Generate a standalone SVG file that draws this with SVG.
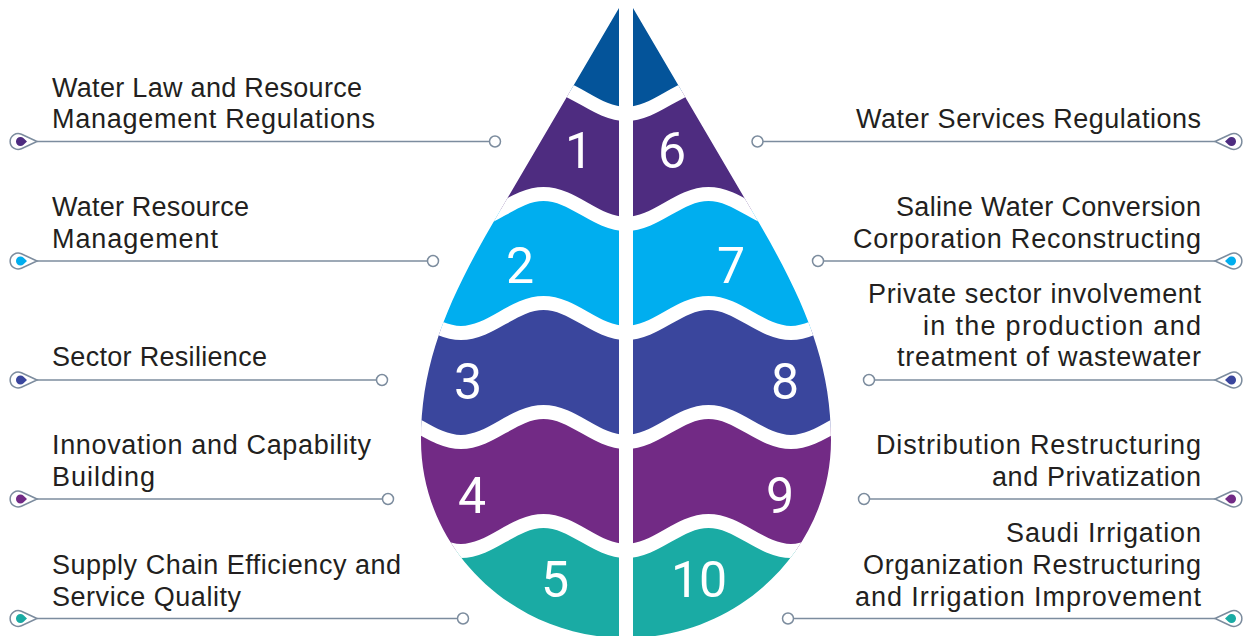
<svg xmlns="http://www.w3.org/2000/svg" xmlns:xlink="http://www.w3.org/1999/xlink" width="1245" height="636" viewBox="0 0 1245 636">
  <style>
    .lbl { font-family: "Liberation Sans", Arial, sans-serif; font-size: 27px; fill: #231f20; }
    .end { text-anchor: end; }
    .num { font-family: Roboto, "Liberation Sans", sans-serif; font-size: 50px; fill: #ffffff; text-anchor: middle; }
    .conn { stroke: #7c8c9e; stroke-width: 1.5; fill: none; }
    .dot { fill: #ffffff; stroke: #7c8c9e; stroke-width: 1.5; }
    .pin { fill: #ffffff; stroke: #7c8c9e; stroke-width: 1.5; }
    .sep { fill: none; stroke: #ffffff; stroke-width: 14; }
    .c0 { fill: #04549a; }
    .c1 { fill: #4e2c80; }
    .c2 { fill: #00aeef; }
    .c3 { fill: #3a469d; }
    .c4 { fill: #722a85; }
    .c5 { fill: #1aaba4; }
  </style>
  <defs>
    <!-- drop outline and its two halves (the 14px centre gap is left out) -->
    <clipPath id="dropClip">
      <path d="M626,-4 L497,216 C450,296 421,360 421,440 C421,549 513,638 626,638 C739,638 831,549 831,440 C831,360 802,296 755,216 Z"/>
    </clipPath>
    <clipPath id="halfL">
      <path d="M619,8 L497,216 C450,296 421,360 421,440 C421,549 513,638 626,638 L619,638 Z"/>
    </clipPath>
    <clipPath id="halfR">
      <path d="M633,8 L755,216 C802,296 831,360 831,440 C831,549 739,638 626,638 L633,638 Z"/>
    </clipPath>

    <!-- horizontal bands between the wave lines -->
    <path id="band0" d="M360,-20 L890,-20 L890,84 L873.5,84 C843.5,84 821,114 791,114 C761,114 738.5,84 708.5,84 C678.5,84 656,114 626,114 C596,114 573.5,84 543.5,84 C513.5,84 491,114 461,114 C431,114 408.5,84 378.5,84 L360,84 Z"/>
    <path id="band1" d="M360,84 L378.5,84 C408.5,84 431,114 461,114 C491,114 513.5,84 543.5,84 C573.5,84 596,114 626,114 C656,114 678.5,84 708.5,84 C738.5,84 761,114 791,114 C821,114 843.5,84 873.5,84 L890,84 L890,194 L873.5,194 C843.5,194 821,224 791,224 C761,224 738.5,194 708.5,194 C678.5,194 656,224 626,224 C596,224 573.5,194 543.5,194 C513.5,194 491,224 461,224 C431,224 408.5,194 378.5,194 L360,194 Z"/>
    <path id="band2" d="M360,194 L378.5,194 C408.5,194 431,224 461,224 C491,224 513.5,194 543.5,194 C573.5,194 596,224 626,224 C656,224 678.5,194 708.5,194 C738.5,194 761,224 791,224 C821,224 843.5,194 873.5,194 L890,194 L890,303 L873.5,303 C843.5,303 821,333 791,333 C761,333 738.5,303 708.5,303 C678.5,303 656,333 626,333 C596,333 573.5,303 543.5,303 C513.5,303 491,333 461,333 C431,333 408.5,303 378.5,303 L360,303 Z"/>
    <path id="band3" d="M360,303 L378.5,303 C408.5,303 431,333 461,333 C491,333 513.5,303 543.5,303 C573.5,303 596,333 626,333 C656,333 678.5,303 708.5,303 C738.5,303 761,333 791,333 C821,333 843.5,303 873.5,303 L890,303 L890,412 L873.5,412 C843.5,412 821,442 791,442 C761,442 738.5,412 708.5,412 C678.5,412 656,442 626,442 C596,442 573.5,412 543.5,412 C513.5,412 491,442 461,442 C431,442 408.5,412 378.5,412 L360,412 Z"/>
    <path id="band4" d="M360,412 L378.5,412 C408.5,412 431,442 461,442 C491,442 513.5,412 543.5,412 C573.5,412 596,442 626,442 C656,442 678.5,412 708.5,412 C738.5,412 761,442 791,442 C821,442 843.5,412 873.5,412 L890,412 L890,521 L873.5,521 C843.5,521 821,551 791,551 C761,551 738.5,521 708.5,521 C678.5,521 656,551 626,551 C596,551 573.5,521 543.5,521 C513.5,521 491,551 461,551 C431,551 408.5,521 378.5,521 L360,521 Z"/>
    <path id="band5" d="M360,521 L378.5,521 C408.5,521 431,551 461,551 C491,551 513.5,521 543.5,521 C573.5,521 596,551 626,551 C656,551 678.5,521 708.5,521 C738.5,521 761,551 791,551 C821,551 843.5,521 873.5,521 L890,521 L890,660 L360,660 Z"/>

    <!-- end marker of each leader line: outlined drop with a coloured core -->
    <path id="pin" d="M0,0 L-15.6,-7.3 A8,8 0 1,0 -15.6,7.3 Z"/>
    <path id="pinCore" d="M-10,0 L-13.4,-3.25 A4.5,4.5 0 1,0 -13.4,3.25 Z"/>
  </defs>

  <!-- tip of the drop -->
  <g id="drop-tip">
    <use xlink:href="#band0" class="c0" clip-path="url(#halfL)"/>
    <use xlink:href="#band0" class="c0" clip-path="url(#halfR)"/>
  </g>

  <!-- left column -->
  <g id="node-1">
    <use xlink:href="#band1" class="c1" clip-path="url(#halfL)"/>
    <text class="num" x="579" y="168">1</text>
    <text class="lbl" x="52" y="97" textLength="310" lengthAdjust="spacing">Water Law and Resource</text>
    <text class="lbl" x="52" y="128" textLength="323" lengthAdjust="spacing">Management Regulations</text>
  </g>
  <g id="node-2">
    <use xlink:href="#band2" class="c2" clip-path="url(#halfL)"/>
    <text class="num" x="520" y="283">2</text>
    <text class="lbl" x="52" y="216" textLength="197" lengthAdjust="spacing">Water Resource</text>
    <text class="lbl" x="52" y="248" textLength="166" lengthAdjust="spacing">Management</text>
  </g>
  <g id="node-3">
    <use xlink:href="#band3" class="c3" clip-path="url(#halfL)"/>
    <text class="num" x="468" y="399">3</text>
    <text class="lbl" x="52" y="366" textLength="215" lengthAdjust="spacing">Sector Resilience</text>
  </g>
  <g id="node-4">
    <use xlink:href="#band4" class="c4" clip-path="url(#halfL)"/>
    <text class="num" x="472" y="513">4</text>
    <text class="lbl" x="52" y="454" textLength="319" lengthAdjust="spacing">Innovation and Capability</text>
    <text class="lbl" x="52" y="486" textLength="103" lengthAdjust="spacing">Building</text>
  </g>
  <g id="node-5">
    <use xlink:href="#band5" class="c5" clip-path="url(#halfL)"/>
    <text class="num" x="555" y="597">5</text>
    <text class="lbl" x="52" y="574" textLength="349" lengthAdjust="spacing">Supply Chain Efficiency and</text>
    <text class="lbl" x="52" y="606" textLength="189" lengthAdjust="spacing">Service Quality</text>
  </g>

  <!-- right column -->
  <g id="node-6">
    <use xlink:href="#band1" class="c1" clip-path="url(#halfR)"/>
    <text class="num" x="672" y="168">6</text>
    <text class="lbl end" x="1201" y="128" textLength="345" lengthAdjust="spacing">Water Services Regulations</text>
  </g>
  <g id="node-7">
    <use xlink:href="#band2" class="c2" clip-path="url(#halfR)"/>
    <text class="num" x="731" y="283">7</text>
    <text class="lbl end" x="1201" y="216" textLength="305" lengthAdjust="spacing">Saline Water Conversion</text>
    <text class="lbl end" x="1201" y="248" textLength="348" lengthAdjust="spacing">Corporation Reconstructing</text>
  </g>
  <g id="node-8">
    <use xlink:href="#band3" class="c3" clip-path="url(#halfR)"/>
    <text class="num" x="785" y="399">8</text>
    <text class="lbl end" x="1201" y="303" textLength="333" lengthAdjust="spacing">Private sector involvement</text>
    <text class="lbl end" x="1201" y="335" textLength="278" lengthAdjust="spacing">in the production and</text>
    <text class="lbl end" x="1201" y="366" textLength="304" lengthAdjust="spacing">treatment of wastewater</text>
  </g>
  <g id="node-9">
    <use xlink:href="#band4" class="c4" clip-path="url(#halfR)"/>
    <text class="num" x="780" y="513">9</text>
    <text class="lbl end" x="1201" y="454" textLength="325" lengthAdjust="spacing">Distribution Restructuring</text>
    <text class="lbl end" x="1201" y="486" textLength="209" lengthAdjust="spacing">and Privatization</text>
  </g>
  <g id="node-10">
    <use xlink:href="#band5" class="c5" clip-path="url(#halfR)"/>
    <text class="num" x="699" y="597">10</text>
    <text class="lbl end" x="1201" y="542" textLength="195" lengthAdjust="spacing">Saudi Irrigation</text>
    <text class="lbl end" x="1201" y="574" textLength="338" lengthAdjust="spacing">Organization Restructuring</text>
    <text class="lbl end" x="1201" y="606" textLength="346" lengthAdjust="spacing">and Irrigation Improvement</text>
  </g>

  <!-- white wave gaps between the bands -->
  <g id="separators" clip-path="url(#dropClip)">
    <path class="sep" d="M360,84 L378.5,84 C408.5,84 431,114 461,114 C491,114 513.5,84 543.5,84 C573.5,84 596,114 626,114 C656,114 678.5,84 708.5,84 C738.5,84 761,114 791,114 C821,114 843.5,84 873.5,84 L890,84"/>
    <path class="sep" d="M360,194 L378.5,194 C408.5,194 431,224 461,224 C491,224 513.5,194 543.5,194 C573.5,194 596,224 626,224 C656,224 678.5,194 708.5,194 C738.5,194 761,224 791,224 C821,224 843.5,194 873.5,194 L890,194"/>
    <path class="sep" d="M360,303 L378.5,303 C408.5,303 431,333 461,333 C491,333 513.5,303 543.5,303 C573.5,303 596,333 626,333 C656,333 678.5,303 708.5,303 C738.5,303 761,333 791,333 C821,333 843.5,303 873.5,303 L890,303"/>
    <path class="sep" d="M360,412 L378.5,412 C408.5,412 431,442 461,442 C491,442 513.5,412 543.5,412 C573.5,412 596,442 626,442 C656,442 678.5,412 708.5,412 C738.5,412 761,442 791,442 C821,442 843.5,412 873.5,412 L890,412"/>
    <path class="sep" d="M360,521 L378.5,521 C408.5,521 431,551 461,551 C491,551 513.5,521 543.5,521 C573.5,521 596,551 626,551 C656,551 678.5,521 708.5,521 C738.5,521 761,551 791,551 C821,551 843.5,521 873.5,521 L890,521"/>
  </g>

  <!-- leader lines -->
  <g id="connectors">
    <line class="conn" x1="37" y1="141.5" x2="495" y2="141.5"/>
    <line class="conn" x1="37" y1="261" x2="433" y2="261"/>
    <line class="conn" x1="37" y1="380" x2="382" y2="380"/>
    <line class="conn" x1="37" y1="499" x2="388" y2="499"/>
    <line class="conn" x1="37" y1="618.5" x2="463" y2="618.5"/>
    <line class="conn" x1="757.5" y1="141.5" x2="1215" y2="141.5"/>
    <line class="conn" x1="818" y1="261" x2="1215" y2="261"/>
    <line class="conn" x1="869" y1="380" x2="1215" y2="380"/>
    <line class="conn" x1="864" y1="499" x2="1215" y2="499"/>
    <line class="conn" x1="788" y1="618.5" x2="1215" y2="618.5"/>

    <circle class="dot" cx="495" cy="141.5" r="5.5"/>
    <circle class="dot" cx="433" cy="261" r="5.5"/>
    <circle class="dot" cx="382" cy="380" r="5.5"/>
    <circle class="dot" cx="388" cy="499" r="5.5"/>
    <circle class="dot" cx="463" cy="618.5" r="5.5"/>
    <circle class="dot" cx="757.5" cy="141.5" r="5.5"/>
    <circle class="dot" cx="818" cy="261" r="5.5"/>
    <circle class="dot" cx="869" cy="380" r="5.5"/>
    <circle class="dot" cx="864" cy="499" r="5.5"/>
    <circle class="dot" cx="788" cy="618.5" r="5.5"/>

    <g transform="translate(37,141.5)"><use xlink:href="#pin" class="pin"/><use xlink:href="#pinCore" class="c1"/></g>
    <g transform="translate(37,261)"><use xlink:href="#pin" class="pin"/><use xlink:href="#pinCore" class="c2"/></g>
    <g transform="translate(37,380)"><use xlink:href="#pin" class="pin"/><use xlink:href="#pinCore" class="c3"/></g>
    <g transform="translate(37,499)"><use xlink:href="#pin" class="pin"/><use xlink:href="#pinCore" class="c4"/></g>
    <g transform="translate(37,618.5)"><use xlink:href="#pin" class="pin"/><use xlink:href="#pinCore" class="c5"/></g>
    <g transform="translate(1215,141.5) scale(-1,1)"><use xlink:href="#pin" class="pin"/><use xlink:href="#pinCore" class="c1"/></g>
    <g transform="translate(1215,261) scale(-1,1)"><use xlink:href="#pin" class="pin"/><use xlink:href="#pinCore" class="c2"/></g>
    <g transform="translate(1215,380) scale(-1,1)"><use xlink:href="#pin" class="pin"/><use xlink:href="#pinCore" class="c3"/></g>
    <g transform="translate(1215,499) scale(-1,1)"><use xlink:href="#pin" class="pin"/><use xlink:href="#pinCore" class="c4"/></g>
    <g transform="translate(1215,618.5) scale(-1,1)"><use xlink:href="#pin" class="pin"/><use xlink:href="#pinCore" class="c5"/></g>
  </g>
</svg>
